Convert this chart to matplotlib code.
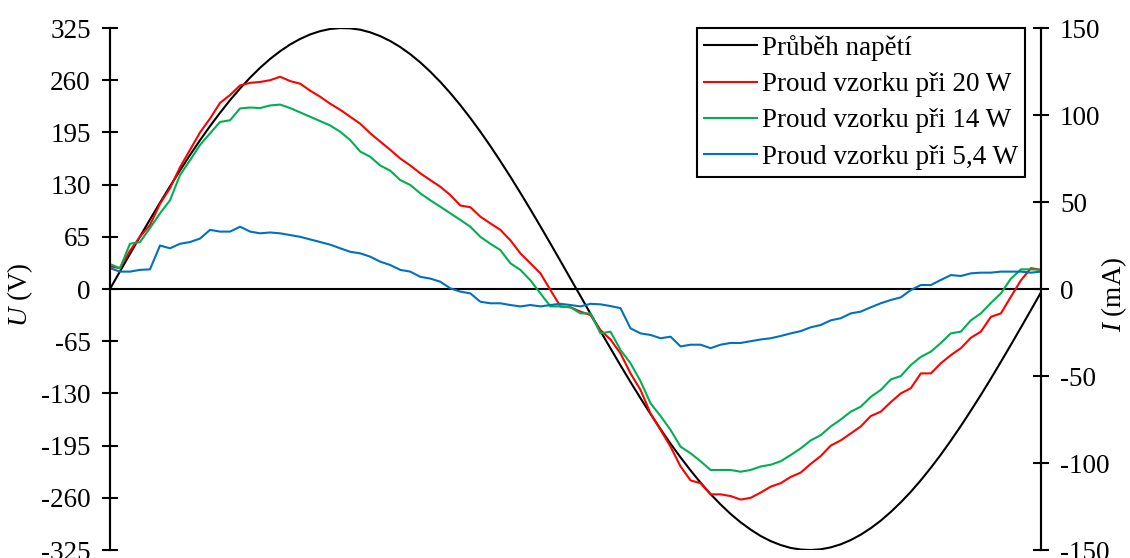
import numpy as np
import matplotlib
matplotlib.use('Agg')
import matplotlib.pyplot as plt

plt.rcParams['font.family'] = 'Liberation Serif'
plt.rcParams['mathtext.fontset'] = 'custom'
plt.rcParams['mathtext.rm'] = 'Liberation Serif'
plt.rcParams['mathtext.it'] = 'Liberation Serif:italic'
plt.rcParams['axes.unicode_minus'] = False

# jedna perioda site (50 Hz), 94 vzorku
cas_ms = np.linspace(0, 20, 94)

# prubeh napeti (V)
napeti = [0, 21.9, 43.7, 65.3, 86.6, 107.5, 127.9, 147.7, 166.9, 185.3,
          202.9, 219.5, 235.2, 249.8, 263.2, 275.5, 286.5, 296.1, 304.5, 311.4,
          317.0, 321.1, 323.8, 324.9, 324.6, 322.9, 319.6, 314.9, 308.8, 301.3,
          292.4, 282.2, 270.6, 257.9, 244.0, 229.0, 212.9, 195.9, 178.0, 159.2,
          139.8, 119.7, 99.1, 78.0, 56.6, 34.9, 13.0, -8.8, -30.7, -52.5,
          -73.9, -95.1, -115.8, -136.0, -155.6, -174.5, -192.6, -209.7, -225.9, -241.2,
          -255.4, -268.3, -280.1, -290.5, -299.6, -307.5, -313.9, -318.8, -322.4, -324.4,
          -325.0, -324.1, -321.7, -317.9, -312.6, -305.9, -297.8, -288.4, -277.6, -265.6,
          -252.5, -238.1, -222.6, -206.2, -188.7, -170.5, -151.4, -131.8, -111.5, -90.6,
          -69.4, -47.9, -26.1, -4.2]

# proud vzorku (mA)
proud_20w = [13, 12, 22, 30, 36.8, 49, 58, 70, 80, 90,
             98, 107, 111.5, 117, 118.5, 119, 120, 122, 119.5, 118,
             114, 110.5, 106.5, 103, 99, 95, 89.5, 84.7, 80, 75,
             71, 66.5, 62.6, 58.8, 54, 48, 47, 41.6, 37.7, 34,
             28, 20.5, 14.8, 9, -0.6, -10, -10.5, -13, -15, -23.6,
             -29, -37, -48.5, -58, -71.5, -81, -90.6, -102, -110, -111.6,
             -118, -118, -119, -121, -120, -117, -113.6, -111.6, -108, -105.5,
             -100.5, -96, -90, -87, -83, -79, -73, -70.5, -65, -60,
             -57, -48.5, -48.5, -42.7, -38, -34, -28, -24.5, -16, -14,
             -4.4, 5, 12, 11]

proud_14w = [14.4, 11.9, 26, 27, 35, 43.5, 51, 65.5, 74, 82.8,
             89.5, 96, 97, 103.8, 104.3, 104, 105.5, 106, 104, 101.5,
             99, 96.5, 94, 90.4, 85.6, 79, 76, 71, 68, 62.6,
             59.8, 55, 51, 47.3, 43.5, 39.7, 35.8, 30, 26, 22.4,
             14.8, 11, 5, -2.5, -10, -10, -10.5, -14, -14, -25.5,
             -24.5, -35, -42.7, -53, -65.7, -73, -81, -90.6, -94.4, -99,
             -104, -104, -104, -105, -104, -102, -101, -99, -95.4, -91.6,
             -87, -84, -79, -75, -70.5, -67.6, -62, -58, -52, -50,
             -43.7, -39, -36, -31, -25.5, -24.5, -18, -14, -8, -2.5,
             6, 11.3, 11.3, 11]

proud_5w4 = [12, 10, 10, 11, 11.3, 25, 23.4, 26, 27, 29,
             34, 33, 33, 35.8, 33, 32, 32.5, 32, 31, 30,
             28.5, 27, 25.5, 23.4, 21.4, 20.5, 18.6, 15.7, 13.8, 11,
             10, 7, 6, 4.2, 0.4, -1.5, -2.5, -7.3, -8.2, -8.2,
             -9.2, -10, -9.2, -10, -9.2, -8.5, -9.2, -10, -8.5, -8.8,
             -9.8, -11, -22.6, -25.5, -26.4, -28.3, -27.4, -33, -32, -32,
             -34, -32, -31, -31, -30, -29, -28.3, -27, -25.5, -24.2,
             -22, -20.7, -18, -16.8, -14, -13, -10.5, -8.2, -6.3, -4.8,
             -0.6, 2.3, 2.3, 5.2, 8, 7.5, 9, 9.4, 9.4, 10,
             10, 10, 9.4, 10]

fs = 19.5

fig, ax = plt.subplots(figsize=(11.3, 5.58), dpi=100)
fig.subplots_adjust(left=0.0973, right=0.9212, top=0.9498, bottom=0.0143)
ax2 = ax.twinx()

l0, = ax.plot(cas_ms, napeti, color='black', lw=1.5, label='Průběh napětí')
ax.axhline(0, color='black', lw=1.5)
l1, = ax2.plot(cas_ms, proud_20w, color='#FF0000', lw=1.5, label='Proud vzorku při 20 W')
l2, = ax2.plot(cas_ms, proud_14w, color='#00B050', lw=1.5, label='Proud vzorku při 14 W')
l3, = ax2.plot(cas_ms, proud_5w4, color='#0070C0', lw=1.5, label='Proud vzorku při 5,4 W')

ax.set_xlim(0, 20)
ax.set_ylim(-325, 325)
ax2.set_ylim(-150, 150)
ax.set_yticks(np.arange(-325, 326, 65))
ax2.set_yticks(np.arange(-150, 151, 50))
ax.set_xticks([])

for a in (ax, ax2):
    a.spines['top'].set_visible(False)
    a.spines['bottom'].set_visible(False)
    a.spines['left'].set_linewidth(1.5)
    a.spines['right'].set_linewidth(1.5)
    a.tick_params(axis='y', direction='inout', length=11.5, width=1.5,
                  labelsize=fs, pad=8)

ax.set_ylabel('$U$ (V)', fontsize=fs)
ax.yaxis.set_label_coords(-0.0967, 0.49)
ax2.set_ylabel('$I$ (mA)', fontsize=fs, rotation=90)
ax2.yaxis.set_label_coords(1.079, 0.49)
for lab in (ax.yaxis.label, ax2.yaxis.label):
    lab.set_va('center')
    lab.set_ha('center')

leg = ax2.legend(handles=[l0, l1, l2, l3], loc='upper right',
                 bbox_to_anchor=(0.983, 1.0), fontsize=fs, frameon=True,
                 fancybox=False, edgecolor='black', framealpha=1,
                 handlelength=1.95, handletextpad=0.2, borderpad=0.25,
                 labelspacing=0.42, borderaxespad=0)
leg.get_frame().set_linewidth(1.5)

plt.savefig('out.png', dpi=100)
